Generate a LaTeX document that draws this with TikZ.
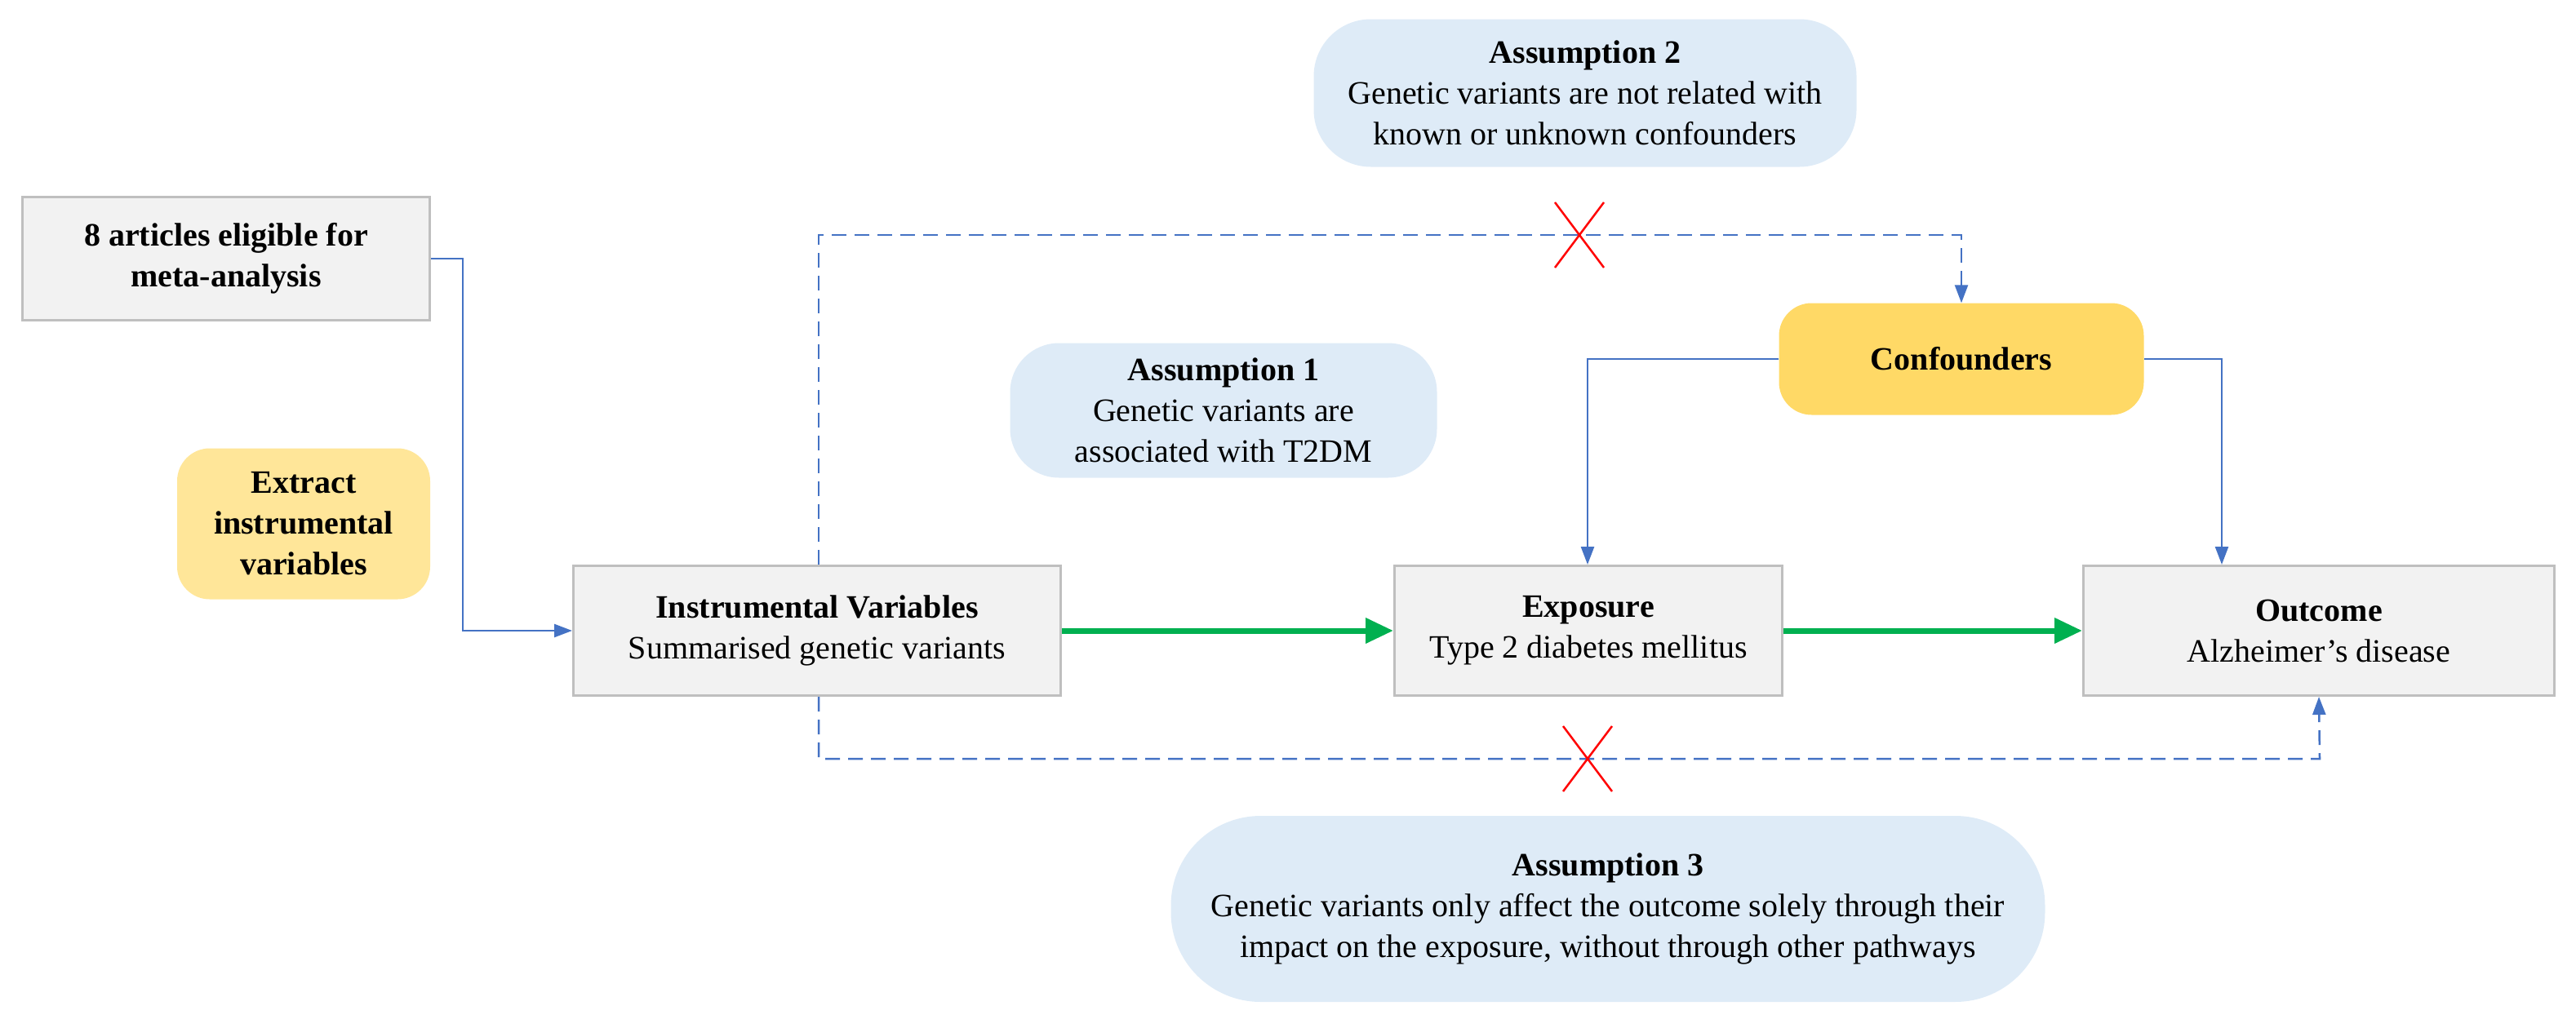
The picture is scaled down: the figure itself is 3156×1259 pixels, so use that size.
\documentclass[tikz,border=0pt]{standalone}
\usepackage{fontspec}
\setmainfont{Liberation Serif}
\usetikzlibrary{arrows.meta,calc}
\definecolor{gbox}{HTML}{F2F2F2}
\definecolor{gline}{HTML}{BFBFBF}
\definecolor{ylite}{HTML}{FFE699}
\definecolor{ydark}{HTML}{FFD966}
\definecolor{bfill}{HTML}{DEEBF7}
\definecolor{bline}{HTML}{4472C4}
\definecolor{grn}{HTML}{00B050}
\begin{document}
\begin{tikzpicture}[x=1pt,y=-1pt,
  every node/.style={font=\fontsize{40}{50}\selectfont, align=center, inner sep=0pt},
  gray/.style={draw=gline, line width=3pt, fill=gbox},
  ybox/.style={fill=#1, rounded corners=40pt},
  abox/.style={fill=bfill, rounded corners=#1},
  con/.style={draw=bline, line width=2.5pt, -{Triangle[length=22pt,width=16pt]}},
  dcon/.style={draw=bline, line width=2.5pt, dash pattern=on 18pt off 10pt, -{Triangle[length=22pt,width=16pt]}},
  gcon/.style={draw=grn, line width=7pt, -{Triangle[length=34pt,width=30pt]}},
  xmark/.style={draw=red, line width=2.5pt}]
\useasboundingbox (0,0) rectangle (3156,1259);
\node[gray, minimum width=499pt, minimum height=151pt] (art) at (277,317) {\textbf{8 articles eligible for}\\\textbf{meta-analysis}};
\node[ybox=ylite, minimum width=310pt, minimum height=185pt] (ext) at (372,642) {\textbf{Extract}\\\textbf{instrumental}\\\textbf{variables}};
\node[gray, minimum width=597pt, minimum height=159pt] (iv) at (1001,773) {\textbf{Instrumental Variables}\\Summarised genetic variants};
\node[gray, minimum width=475pt, minimum height=159pt] (exp) at (1946,773) {\textbf{Exposure}\\Type 2 diabetes mellitus};
\node[gray, minimum width=577pt, minimum height=159pt] (out) at (2841,773) {\textbf{Outcome}\\Alzheimer's disease};
\node[ybox=ydark, minimum width=447pt, minimum height=137pt] (conf) at (2403,440) {\textbf{Confounders}};
\node[abox=70pt, minimum width=665pt, minimum height=181pt] (a2) at (1942,114) {\textbf{Assumption 2}\\Genetic variants are not related with\\known or unknown confounders};
\node[abox=60pt, minimum width=523pt, minimum height=165pt] (a1) at (1499,503) {\textbf{Assumption 1}\\Genetic variants are\\associated with T2DM};
\node[abox=110pt, minimum width=1071pt, minimum height=228pt] (a3) at (1970,1114) {\textbf{Assumption 3}\\Genetic variants only affect the outcome solely through their\\impact on the exposure, without through other pathways};
\coordinate (c1) at (567,317);
\coordinate (c2) at (567,773);
\draw[con] (art.east |- c1) -- (c1) -- (c2) -- (iv.west);
\draw[gcon] (iv.east) -- (exp.west);
\draw[gcon] (exp.east) -- (out.west);
\coordinate (cl) at (1945,440);
\coordinate (cr) at (2722,440);
\draw[con] (conf.west) -- (cl) -- (cl |- exp.north);
\draw[con] (conf.east) -- (cr) -- (cr |- out.north);
\coordinate (t1) at (1003,288);
\coordinate (t2) at (2403,288);
\draw[dcon] (t1 |- iv.north) -- (t1) -- (t2) -- (conf.north);
\coordinate (b1) at (1003,930);
\coordinate (b2) at (2842,930);
\draw[dcon] (b1 |- iv.south) -- (b1) -- (b2) -- (out.south);
\coordinate (x1) at (1935,288);
\coordinate (x2) at (1945,930);
\draw[xmark] ($(x1)+(-30,-40)$) -- ($(x1)+(30,40)$) ($(x1)+(30,-40)$) -- ($(x1)+(-30,40)$);
\draw[xmark] ($(x2)+(-30,-40)$) -- ($(x2)+(30,40)$) ($(x2)+(30,-40)$) -- ($(x2)+(-30,40)$);
\end{tikzpicture}
\end{document}
